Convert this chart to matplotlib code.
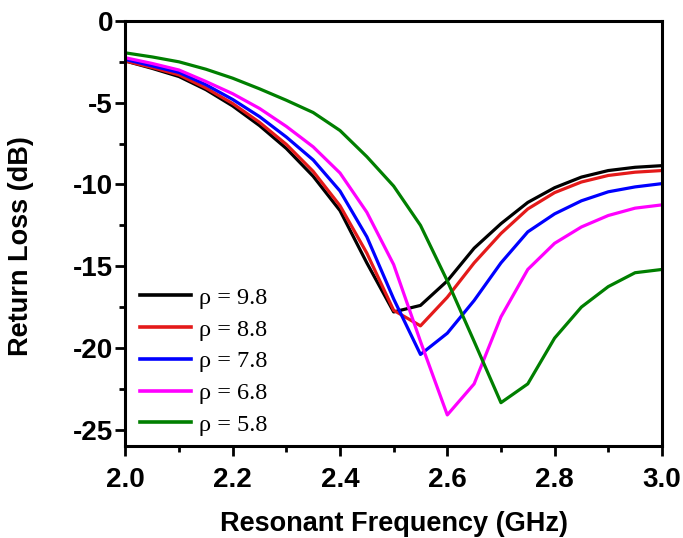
import matplotlib
matplotlib.use("Agg")
import matplotlib.pyplot as plt
from matplotlib.ticker import MultipleLocator, FormatStrFormatter

plt.rcParams['axes.unicode_minus'] = False

# Frequency sweep (GHz)
freq = [2.00, 2.05, 2.10, 2.15, 2.20, 2.25, 2.30, 2.35, 2.40, 2.45, 2.50,
        2.55, 2.60, 2.65, 2.70, 2.75, 2.80, 2.85, 2.90, 2.95, 3.00]

# Return loss (dB) for each substrate permittivity
rl_98 = [-2.45, -2.9, -3.4, -4.2, -5.2, -6.4, -7.8, -9.5, -11.6, -14.8, -17.8,
         -17.4, -15.9, -13.9, -12.4, -11.1, -10.2, -9.55, -9.15, -8.95, -8.85]
rl_88 = [-2.45, -2.85, -3.3, -4.1, -5.05, -6.2, -7.55, -9.2, -11.3, -14.2, -17.7,
         -18.65, -16.9, -14.8, -13.0, -11.5, -10.5, -9.85, -9.45, -9.25, -9.15]
rl_78 = [-2.35, -2.75, -3.15, -3.9, -4.8, -5.85, -7.1, -8.5, -10.4, -13.2, -17.0,
         -20.4, -19.1, -17.1, -14.8, -12.9, -11.8, -11.0, -10.45, -10.15, -9.95]
rl_68 = [-2.25, -2.6, -3.0, -3.7, -4.45, -5.35, -6.45, -7.7, -9.3, -11.7, -14.9,
         -19.6, -24.1, -22.2, -18.1, -15.2, -13.6, -12.6, -11.9, -11.45, -11.25]
rl_58 = [-1.95, -2.2, -2.5, -2.95, -3.5, -4.15, -4.85, -5.6, -6.7, -8.3, -10.1,
         -12.5, -15.9, -19.6, -23.35, -22.2, -19.4, -17.5, -16.25, -15.4, -15.2]

series = [rl_98, rl_88, rl_78, rl_68, rl_58]
labels = ["ρ = 9.8", "ρ = 8.8", "ρ = 7.8", "ρ = 6.8", "ρ = 5.8"]
colors = ["#000000", "#e41a1a", "#0000ff", "#ff00ff", "#007f00"]

fig = plt.figure(figsize=(6.83, 5.38), dpi=100)
ax = fig.add_axes([0.1836, 0.171, 0.7855, 0.790])

for y, lab, c in zip(series, labels, colors):
    ax.plot(freq, y, color=c, lw=2.3, label=lab)

ax.set_xlim(2.0, 3.0)
ax.set_ylim(-26, 0)
ax.xaxis.set_major_locator(MultipleLocator(0.2))
ax.xaxis.set_minor_locator(MultipleLocator(0.1))
ax.yaxis.set_major_locator(MultipleLocator(5))
ax.yaxis.set_minor_locator(MultipleLocator(2.5))
ax.xaxis.set_major_formatter(FormatStrFormatter('%.1f'))
ax.yaxis.set_major_formatter(FormatStrFormatter('%d'))

for s in ax.spines.values():
    s.set_linewidth(2.2)

ax.tick_params(axis='both', which='both', direction='out', top=False, right=False, width=2)
ax.tick_params(axis='both', which='major', length=7)
ax.tick_params(axis='both', which='minor', length=4.5)
ax.tick_params(axis='x', which='major', pad=8)
ax.tick_params(axis='y', which='major', pad=2)

label_font = dict(family='Liberation Sans', weight='bold', size=19.5)
for t in ax.get_xticklabels() + ax.get_yticklabels():
    t.set_fontfamily('Liberation Sans')
    t.set_fontweight('bold')
    t.set_fontsize(20)

ax.set_xlabel("Resonant Frequency (GHz)", fontdict=label_font, labelpad=13)
ax.set_ylabel("Return Loss (dB)", fontdict=label_font)
ax.yaxis.set_label_coords(-0.171, 0.47)

leg = ax.legend(loc='lower left', bbox_to_anchor=(0.028, 0.024), frameon=False,
                prop=dict(family='Liberation Serif', size=17.5),
                handlelength=2.1, handletextpad=0.3, labelspacing=0.40,
                borderpad=0, borderaxespad=0)
for h in leg.get_lines():
    h.set_linewidth(2.6)

fig.savefig("out.png", dpi=100, facecolor='white')
